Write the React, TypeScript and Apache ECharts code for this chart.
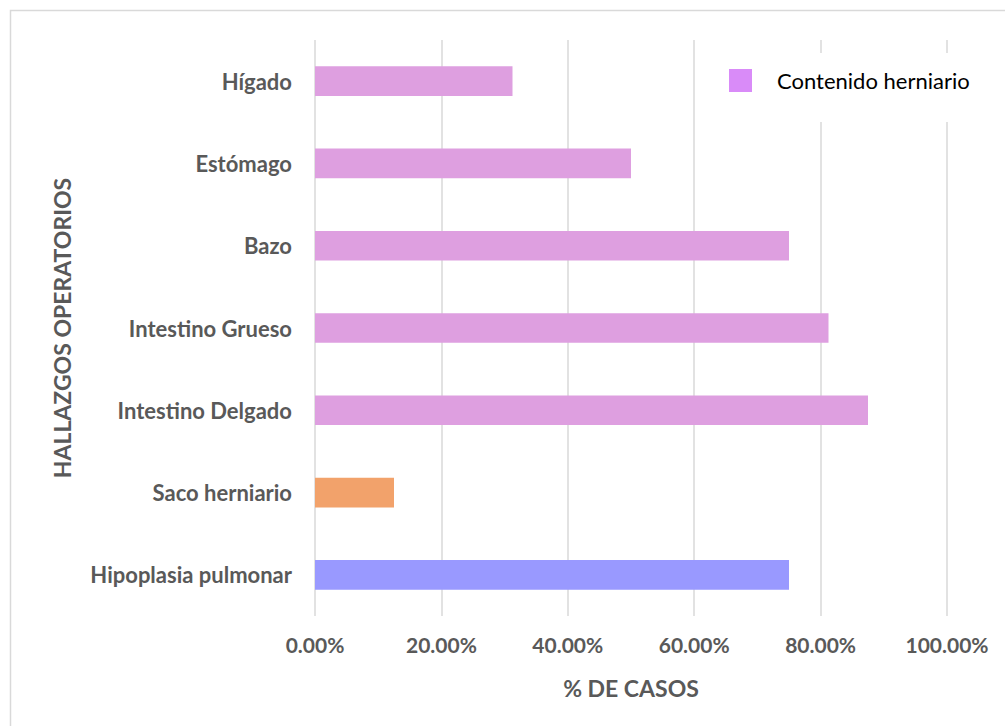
import React, { useEffect, useRef } from "react";
import * as echarts from "echarts";

const categories = [
  "Hipoplasia pulmonar",
  "Saco herniario",
  "Intestino Delgado",
  "Intestino Grueso",
  "Bazo",
  "Estómago",
  "Hígado",
];
const values = [0.75, 0.125, 0.875, 0.8125, 0.75, 0.5, 0.3125];
const barColors = ["#9999FF", "#F2A26B", "#DE9FE0", "#DE9FE0", "#DE9FE0", "#DE9FE0", "#DE9FE0"];
const seriesName = "Contenido herniario";
const xTicks = [0, 0.2, 0.4, 0.6, 0.8, 1.0];

const FONT = "Lato";
const GREY = "#595959";

export default function App() {
  const ref = useRef<HTMLDivElement>(null);
  useEffect(() => {
    const chart = echarts.init(ref.current!, undefined, { renderer: "svg" });
    chart.setOption({
      animation: false,
      backgroundColor: "#ffffff",
      graphic: [
        {
          type: "rect",
          shape: { x: 10.5, y: 10.5, width: 1100, height: 800 },
          style: { fill: "none", stroke: "#d9d9d9", lineWidth: 1.5 },
          z: -10,
        },
      ],
      grid: { left: 315, right: 58, top: 40, bottom: 110, containLabel: false },
      legend: {
        left: 715,
        top: 53,
        padding: [16, 16, 30, 14],
        backgroundColor: "#ffffff",
        itemWidth: 23,
        itemHeight: 23,
        icon: "rect",
        data: [{ name: seriesName, itemStyle: { color: "#D98BF8" } }],
        textStyle: { fontFamily: FONT, fontSize: 22, color: "#000000", padding: [0, 0, 0, 20] },
        z: 10,
      },
      xAxis: {
        type: "value",
        min: 0,
        max: 1,
        interval: 0.2,
        name: "% DE CASOS",
        nameLocation: "middle",
        nameGap: 60,
        nameTextStyle: { fontFamily: FONT, fontSize: 23, fontWeight: "bold", color: GREY },
        axisLine: { show: false },
        axisTick: { show: false },
        axisLabel: {
          margin: 18,
          fontFamily: FONT,
          fontSize: 21,
          fontWeight: "bold",
          color: GREY,
          formatter: (v: number) => (xTicks.includes(Math.round(v * 10) / 10) ? (v * 100).toFixed(2) + "%" : ""),
        },
        splitLine: { show: true, lineStyle: { color: "#d9d9d9", width: 1.5 } },
      },
      yAxis: {
        type: "category",
        data: categories,
        name: "HALLAZGOS OPERATORIOS",
        nameLocation: "middle",
        nameGap: 242,
        nameRotate: 90,
        nameTextStyle: { fontFamily: FONT, fontSize: 23, fontWeight: "bold", color: GREY },
        axisLine: { show: false },
        axisTick: { show: false },
        axisLabel: { margin: 23, fontFamily: FONT, fontSize: 22, fontWeight: "bold", color: GREY },
        splitLine: { show: false },
      },
      series: [
        {
          name: seriesName,
          type: "bar",
          barWidth: "36%",
          data: values.map((v, i) => ({ value: v, itemStyle: { color: barColors[i] } })),
          itemStyle: { color: "#D98BF8" },
        },
      ],
    });
    return () => chart.dispose();
  }, []);
  return <div ref={ref} style={{ position: "fixed", left: 0, top: 0, width: 1005, height: 726 }} />;
}
